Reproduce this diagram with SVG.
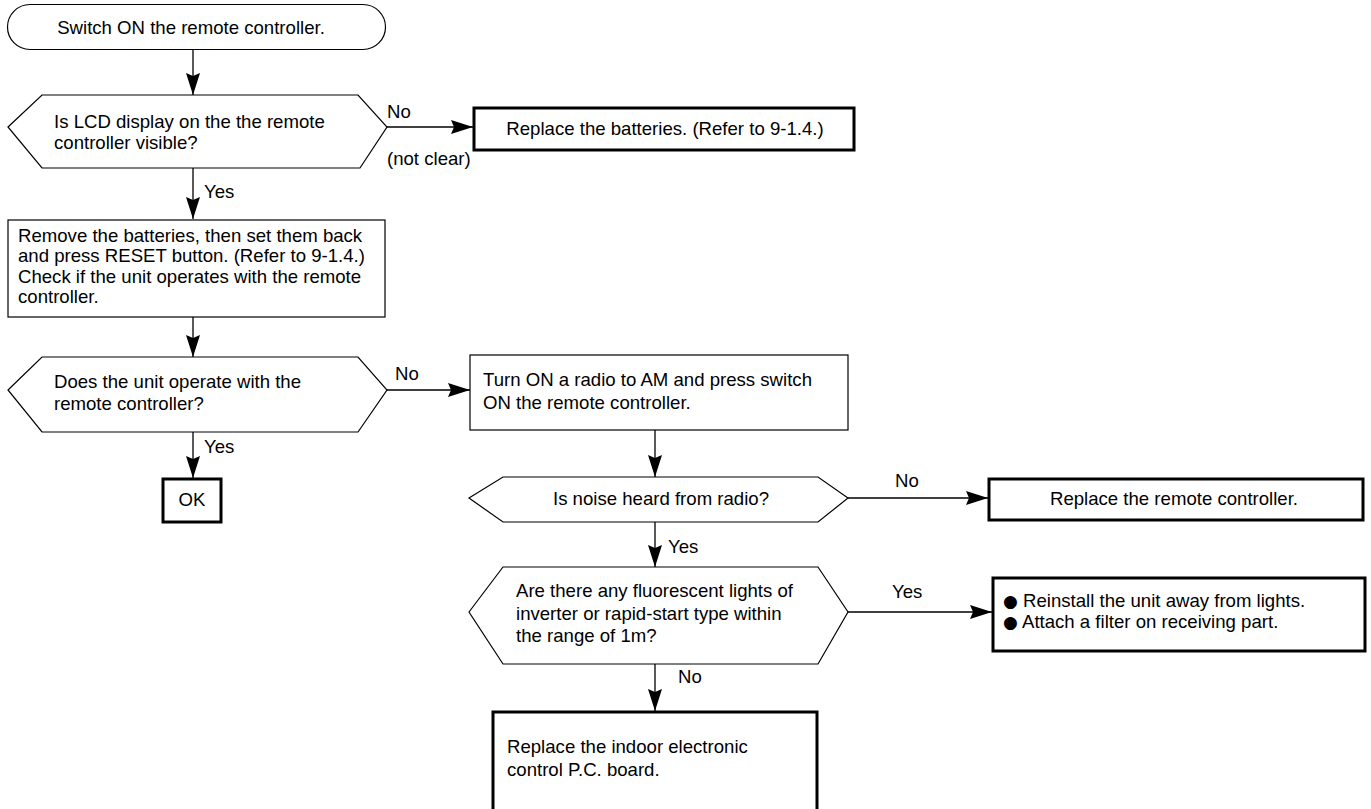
<svg xmlns="http://www.w3.org/2000/svg" width="1371" height="809" viewBox="0 0 1371 809">
<style>
text{font-family:"Liberation Sans",Arial,sans-serif;font-size:18.6px;fill:#000}
.n{fill:#fff;stroke:#000;stroke-width:1.2}
.t{fill:#fff;stroke:#000;stroke-width:3}
.c{fill:none;stroke:#000;stroke-width:1.3}
.m{text-anchor:middle}
.b{font-family:"DejaVu Sans",sans-serif;font-size:17px}
</style>
<defs>
<marker id="ah" viewBox="0 0 22 14" refX="22" refY="7" markerWidth="22" markerHeight="14" markerUnits="userSpaceOnUse" orient="auto">
<path d="M0,0 L22,7 L0,14 L3,7 Z" fill="#000"/>
</marker>
</defs>
<rect width="1371" height="809" fill="#fff"/>
<g id="connectors">
<path class="c" d="M193,49 V95" marker-end="url(#ah)"/>
<path class="c" d="M386,127 H473" marker-end="url(#ah)"/>
<path class="c" d="M193,168 V219" marker-end="url(#ah)"/>
<path class="c" d="M193,317 V357" marker-end="url(#ah)"/>
<path class="c" d="M387,390 H470" marker-end="url(#ah)"/>
<path class="c" d="M193,432 V478" marker-end="url(#ah)"/>
<path class="c" d="M655,430 V477" marker-end="url(#ah)"/>
<path class="c" d="M848,498 H988" marker-end="url(#ah)"/>
<path class="c" d="M655,522 V567" marker-end="url(#ah)"/>
<path class="c" d="M848,612 H992" marker-end="url(#ah)"/>
<path class="c" d="M655,664 V711" marker-end="url(#ah)"/>
<text x="387" y="118">No</text>
<text x="387" y="165">(not clear)</text>
<text x="204" y="198">Yes</text>
<text x="395" y="380">No</text>
<text x="204" y="453">Yes</text>
<text x="895" y="487">No</text>
<text x="668" y="553">Yes</text>
<text x="892" y="598">Yes</text>
<text x="678" y="683">No</text>
</g>
<g id="start">
<rect class="n" x="7.5" y="4.5" width="378" height="45" rx="22.5" ry="22.5"/>
<text class="m" x="191" y="34">Switch ON the remote controller.</text>
</g>
<g id="q-lcd">
<polygon class="n" points="8,127 42,95 358,95 387,127 360,168 42,168"/>
<text x="54" y="128">Is LCD display on the the remote</text>
<text x="54" y="149">controller visible?</text>
</g>
<g id="replace-batteries">
<rect class="t" x="474" y="108" width="380" height="42"/>
<text class="m" x="665" y="135">Replace the batteries. (Refer to 9-1.4.)</text>
</g>
<g id="reset">
<rect class="n" x="8" y="220" width="377" height="97"/>
<text x="18" y="242">Remove the batteries, then set them back</text>
<text x="18" y="262">and press RESET button. (Refer to 9-1.4.)</text>
<text x="18" y="283">Check if the unit operates with the remote</text>
<text x="18" y="303">controller.</text>
</g>
<g id="q-operate">
<polygon class="n" points="8,390 42,357 358,357 387,390 358,432 42,432"/>
<text x="54" y="388">Does the unit operate with the</text>
<text x="54" y="410">remote controller?</text>
</g>
<g id="ok">
<rect class="t" x="163" y="479" width="58" height="43"/>
<text class="m" x="192" y="506">OK</text>
</g>
<g id="radio">
<rect class="n" x="470" y="355" width="378" height="75"/>
<text x="483" y="386">Turn ON a radio to AM and press switch</text>
<text x="483" y="409">ON the remote controller.</text>
</g>
<g id="q-noise">
<polygon class="n" points="469,498 503,477 818,477 848,498 818,522 503,522"/>
<text class="m" x="661" y="505">Is noise heard from radio?</text>
</g>
<g id="replace-remote">
<rect class="t" x="989" y="479" width="374" height="41"/>
<text class="m" x="1174" y="505">Replace the remote controller.</text>
</g>
<g id="q-lights">
<polygon class="n" points="469,612 503,567 818,567 848,612 818,664 503,664"/>
<text x="516" y="597">Are there any fluorescent lights of</text>
<text x="516" y="620">inverter or rapid-start type within</text>
<text x="516" y="642">the range of 1m?</text>
</g>
<g id="reinstall">
<rect class="t" x="993" y="578" width="372" height="73"/>
<text x="1003" y="607"><tspan class="b">●</tspan> Reinstall the unit away from lights.</text>
<text x="1003" y="628"><tspan class="b">●</tspan> Attach a filter on receiving part.</text>
</g>
<g id="replace-board">
<rect class="t" x="493" y="712" width="324" height="110"/>
<text x="507" y="753">Replace the indoor electronic</text>
<text x="507" y="776">control P.C. board.</text>
</g>
</svg>
